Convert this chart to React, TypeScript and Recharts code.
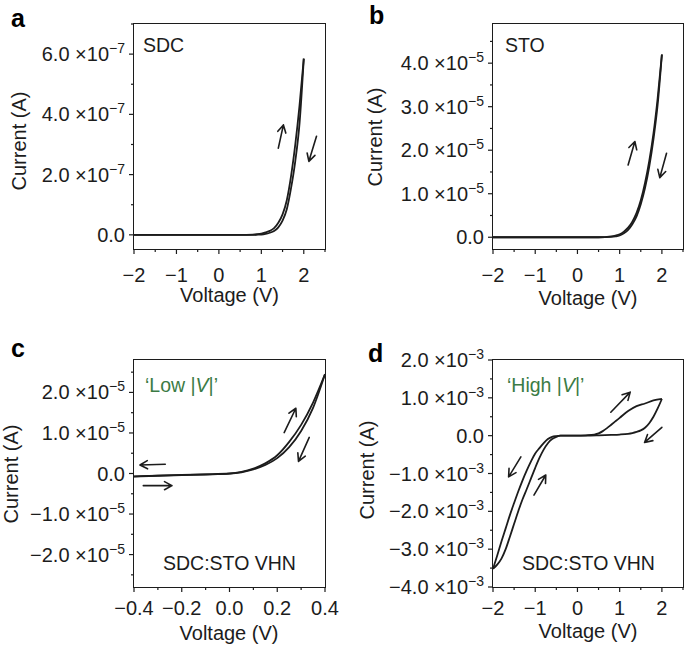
import React from "react";
import {
  LineChart,
  Line,
  XAxis,
  YAxis,
  ReferenceLine,
} from "recharts";

const FONT = "'Liberation Sans', Arial, Helvetica, sans-serif";
const INK = "#1c1c1c";
const GREEN = "#3b7b45";
const Y_AXIS_W = 120;
const X_AXIS_H = 55;

// ---- panel a: SDC (current in A) ----
const sdcV = [-2, -1.5, -1, -0.5, 0, 0.5, 0.8, 0.9, 1.0, 1.1, 1.2, 1.3, 1.4, 1.5, 1.6, 1.7, 1.8, 1.9, 2.0];
const sdcUpI = [0, 0, 0, 0, 0, 0, 0.01e-7, 0.02e-7, 0.04e-7, 0.08e-7, 0.13e-7, 0.22e-7, 0.4e-7, 0.68e-7, 1.15e-7, 1.95e-7, 3.0e-7, 4.3e-7, 5.85e-7];
const sdcDownI = [0, 0, 0, 0, 0, 0, 0, 0.005e-7, 0.01e-7, 0.03e-7, 0.07e-7, 0.13e-7, 0.25e-7, 0.47e-7, 0.85e-7, 1.55e-7, 2.45e-7, 3.7e-7, 5.85e-7];

// ---- panel b: STO ----
const stoV = sdcV;
const stoUpI = [0, 0, 0, 0, 0, 0, 0.02e-5, 0.04e-5, 0.07e-5, 0.13e-5, 0.22e-5, 0.36e-5, 0.56e-5, 0.85e-5, 1.25e-5, 1.75e-5, 2.38e-5, 3.2e-5, 4.2e-5];
const stoDownI = [0, 0, 0, 0, 0, 0, 0.01e-5, 0.02e-5, 0.04e-5, 0.09e-5, 0.17e-5, 0.3e-5, 0.48e-5, 0.76e-5, 1.13e-5, 1.62e-5, 2.25e-5, 3.05e-5, 4.2e-5];

// ---- panel c: SDC:STO VHN, low |V| ----
const lowV = [-0.4, -0.3, -0.2, -0.1, 0, 0.05, 0.1, 0.15, 0.2, 0.25, 0.3, 0.35, 0.4];
const lowUpI = [-0.07e-5, -0.05e-5, -0.035e-5, -0.02e-5, 0, 0.04e-5, 0.12e-5, 0.25e-5, 0.45e-5, 0.78e-5, 1.2e-5, 1.75e-5, 2.45e-5];
const lowDownI = [-0.075e-5, -0.055e-5, -0.04e-5, -0.025e-5, -0.005e-5, 0.03e-5, 0.1e-5, 0.21e-5, 0.38e-5, 0.65e-5, 1.05e-5, 1.62e-5, 2.45e-5];

// ---- panel d: SDC:STO VHN, high |V| ----
const highUpV = [-2, -1.9, -1.8, -1.7, -1.6, -1.5, -1.4, -1.3, -1.2, -1.1, -1.0, -0.9, -0.8, -0.7, -0.6, -0.5, -0.4, -0.2, 0, 0.2, 0.4, 0.5, 0.6, 0.7, 0.8, 0.9, 1.0, 1.2, 1.4, 1.6, 1.8, 2.0];
const highUpI = [-3.52e-3, -3.41e-3, -3.25e-3, -3.0e-3, -2.67e-3, -2.33e-3, -1.99e-3, -1.68e-3, -1.41e-3, -1.13e-3, -0.85e-3, -0.59e-3, -0.37e-3, -0.2e-3, -0.09e-3, -0.03e-3, 0, 0, 0, 0.01e-3, 0.03e-3, 0.06e-3, 0.12e-3, 0.2e-3, 0.29e-3, 0.38e-3, 0.47e-3, 0.65e-3, 0.78e-3, 0.85e-3, 0.93e-3, 0.97e-3];
const highDownV = [-2, -1.9, -1.8, -1.7, -1.6, -1.5, -1.4, -1.3, -1.2, -1.1, -1.0, -0.9, -0.8, -0.7, -0.6, -0.5, -0.4, -0.2, 0, 0.5, 0.8, 1.0, 1.2, 1.3, 1.4, 1.5, 1.6, 1.7, 1.8, 1.9, 2.0];
const highDownI = [-3.52e-3, -3.17e-3, -2.8e-3, -2.45e-3, -2.1e-3, -1.78e-3, -1.47e-3, -1.18e-3, -0.92e-3, -0.68e-3, -0.47e-3, -0.33e-3, -0.2e-3, -0.09e-3, -0.03e-3, -0.01e-3, 0, 0, 0, 0.01e-3, 0.02e-3, 0.03e-3, 0.05e-3, 0.07e-3, 0.1e-3, 0.14e-3, 0.21e-3, 0.33e-3, 0.5e-3, 0.72e-3, 0.97e-3];

// ---- ticks ----
const voltTicksWide = [-2, -1.5, -1, -0.5, 0, 0.5, 1, 1.5, 2, 2.5];
const voltMajorWide = [-2, -1, 0, 1, 2];
const voltTicksLow = [-0.4, -0.3, -0.2, -0.1, 0, 0.1, 0.2, 0.3, 0.4];
const voltMajorLow = [-0.4, -0.2, 0, 0.2, 0.4];
const sdcTicks = [0, 1e-7, 2e-7, 3e-7, 4e-7, 5e-7, 6e-7, 7e-7];
const sdcMajor = [0, 2e-7, 4e-7, 6e-7];
const stoTicks = [0, 0.5e-5, 1e-5, 1.5e-5, 2e-5, 2.5e-5, 3e-5, 3.5e-5, 4e-5, 4.5e-5];
const stoMajor = [0, 1e-5, 2e-5, 3e-5, 4e-5];
const lowTicks = [-2.5e-5, -2e-5, -1.5e-5, -1e-5, -0.5e-5, 0, 0.5e-5, 1e-5, 1.5e-5, 2e-5, 2.5e-5];
const lowMajor = [-2e-5, -1e-5, 0, 1e-5, 2e-5];
const highTicks = [-4e-3, -3.5e-3, -3e-3, -2.5e-3, -2e-3, -1.5e-3, -1e-3, -0.5e-3, 0, 0.5e-3, 1e-3, 1.5e-3, 2e-3];
const highMajor = [-4e-3, -3e-3, -2e-3, -1e-3, 0, 1e-3, 2e-3];

// sweep-direction arrows [v1, i1, v2, i2]
const sdcArrows = [[1.4, 2.88e-7, 1.52, 3.65e-7], [2.3, 3.27e-7, 2.12, 2.44e-7]];
const stoArrows = [[1.2, 1.66e-5, 1.36, 2.2e-5], [2.11, 1.93e-5, 1.95, 1.37e-5]];
const lowArrows = [
  [0.229, 1.01e-5, 0.278, 1.61e-5],
  [0.334, 0.89e-5, 0.289, 0.3e-5],
  [-0.269, 0.23e-5, -0.375, 0.21e-5],
  [-0.361, -0.3e-5, -0.241, -0.3e-5],
];
const highArrows = [
  [0.79, 0.62e-3, 1.25, 1.15e-3],
  [2.0, 0.22e-3, 1.59, -0.18e-3],
  [-1.34, -0.56e-3, -1.63, -1.09e-3],
  [-1.03, -1.57e-3, -0.75, -1.04e-3],
];

const toRows = (v: number[], i: number[]) => v.map((x, k) => ({ v: x, i: i[k] }));
const isIn = (list: number[], val: number, tol: number) => list.some((m) => Math.abs(m - val) < tol);
const minus = (s: string) => s.replace("-", "\u2212");

const makeXTick = (majors: number[], digits: number, labelOffset: number) => (props: any) => {
  const { x, y, payload } = props;
  const major = isIn(majors, payload.value, 1e-6);
  return (
    <g>
      <line x1={x} x2={x} y1={y} y2={y + (major ? 5 : 3)} stroke={INK} strokeWidth={1.2} />
      {major && (
        <text x={x} y={y + labelOffset} textAnchor="middle" fontSize={20} fill={INK} fontFamily={FONT}>
          {minus(payload.value.toFixed(digits))}
        </text>
      )}
    </g>
  );
};

const makeYTick = (majors: number[], exp: number) => (props: any) => {
  const { x, y, payload } = props;
  const scale = Math.pow(10, exp);
  const major = isIn(majors, payload.value, scale * 1e-3);
  const mant = payload.value / scale;
  return (
    <g>
      <line x1={x} x2={x - (major ? 5 : 3)} y1={y} y2={y} stroke={INK} strokeWidth={1.2} />
      {major && (
        <text x={x - 9} y={y + 7} textAnchor="end" fontSize={20} fill={INK} fontFamily={FONT}>
          {Math.abs(mant) < 1e-9 ? (
            "0.0"
          ) : (
            <>
              {minus(mant.toFixed(1))} {"\u00d710"}
              <tspan dy={-8} fontSize={14}>{`\u2212${-exp}`}</tspan>
            </>
          )}
        </text>
      )}
    </g>
  );
};

const ArrowShape = (p: any) => {
  const { x1, y1, x2, y2 } = p;
  const a = Math.atan2(y2 - y1, x2 - x1);
  const L = 8.5;
  const w = 0.5;
  const hx1 = x2 - L * Math.cos(a - w);
  const hy1 = y2 - L * Math.sin(a - w);
  const hx2 = x2 - L * Math.cos(a + w);
  const hy2 = y2 - L * Math.sin(a + w);
  return (
    <path
      d={`M${x1},${y1}L${x2},${y2}M${hx1},${hy1}L${x2},${y2}L${hx2},${hy2}`}
      stroke={INK}
      strokeWidth={1.6}
      fill="none"
      strokeLinecap="round"
      strokeLinejoin="round"
    />
  );
};

type Note = { x: number; y: number; content: React.ReactNode; color?: string };

type PanelProps = {
  left: number;
  top: number;
  width: number;
  height: number;
  margin: { top: number; right: number; bottom: number; left: number };
  xDomain: [number, number];
  xTicks: number[];
  xMajor: number[];
  xDigits: number;
  xLabelOffset: number;
  yDomain: [number, number];
  yTicks: number[];
  yMajor: number[];
  exp: number;
  up: { v: number; i: number }[];
  down: { v: number; i: number }[];
  arrows: number[][];
  letter: [string, number, number];
  yTitle: [number, number];
  xTitle: [number, number];
  notes: Note[];
};

function Panel(p: PanelProps) {
  // plot frame follows from the chart layout (margins + axis sizes)
  const fx = p.margin.left + Y_AXIS_W;
  const fy = p.margin.top;
  const fw = p.width - p.margin.left - p.margin.right - Y_AXIS_W;
  const fh = p.height - p.margin.top - p.margin.bottom - X_AXIS_H;
  return (
    <div style={{ position: "absolute", left: p.left, top: p.top, width: p.width, height: p.height }}>
      <LineChart width={p.width} height={p.height} margin={p.margin}>
        <XAxis
          type="number"
          dataKey="v"
          domain={p.xDomain}
          allowDataOverflow
          ticks={p.xTicks}
          interval={0}
          tickSize={0}
          tickMargin={0}
          axisLine={false}
          tickLine={false}
          height={X_AXIS_H}
          tick={makeXTick(p.xMajor, p.xDigits, p.xLabelOffset)}
        />
        <YAxis
          type="number"
          dataKey="i"
          domain={p.yDomain}
          allowDataOverflow
          ticks={p.yTicks}
          interval={0}
          tickSize={0}
          tickMargin={0}
          axisLine={false}
          tickLine={false}
          width={Y_AXIS_W}
          tick={makeYTick(p.yMajor, p.exp)}
        />
        <Line data={p.up} dataKey="i" type="monotone" stroke={INK} strokeWidth={1.8} dot={false} activeDot={false} isAnimationActive={false} />
        <Line data={p.down} dataKey="i" type="monotone" stroke={INK} strokeWidth={1.8} dot={false} activeDot={false} isAnimationActive={false} />
        {p.arrows.map((a, k) => (
          <ReferenceLine
            key={`a${k}`}
            segment={[{ x: a[0], y: a[1] }, { x: a[2], y: a[3] }]}
            ifOverflow="visible"
            shape={ArrowShape}
          />
        ))}
        <text x={p.letter[1]} y={p.letter[2]} fontSize={25} fontWeight="bold" fill="#000" fontFamily={FONT}>
          {p.letter[0]}
        </text>
        <text
          x={p.yTitle[0]}
          y={p.yTitle[1]}
          transform={`rotate(-90 ${p.yTitle[0]} ${p.yTitle[1]})`}
          textAnchor="middle"
          fontSize={20}
          fill={INK}
          fontFamily={FONT}
        >
          Current (A)
        </text>
        <text x={p.xTitle[0]} y={p.xTitle[1]} textAnchor="middle" fontSize={20} fill={INK} fontFamily={FONT}>
          Voltage (V)
        </text>
        {p.notes.map((n, k) => (
          <text key={k} x={n.x} y={n.y} fontSize={19.5} fill={n.color ?? INK} fontFamily={FONT}>
            {n.content}
          </text>
        ))}
      </LineChart>
      {/* plot frame as an overlay box */}
      <div
        style={{
          position: "absolute",
          left: fx - 1,
          top: fy - 1,
          width: fw + 2,
          height: fh + 2,
          boxSizing: "border-box",
          border: `1.5px solid ${INK}`,
          pointerEvents: "none",
          zIndex: 2,
        }}
      />
    </div>
  );
}

const vText = (word: string) => (
  <>
    {`\u2018${word} |`}
    <tspan fontStyle="italic">V</tspan>
    {"|\u2019"}
  </>
);

export default function App() {
  return (
    <div
      style={{
        position: "absolute",
        left: 0,
        top: 0,
        width: 685,
        height: 646,
        background: "#fff",
        fontFamily: FONT,
        overflow: "hidden",
      }}
    >
      <Panel
        left={0}
        top={0}
        width={342}
        height={320}
        margin={{ top: 24, right: 17, bottom: 16, left: 14 }}
        xDomain={[-2, 2.5]}
        xTicks={voltTicksWide}
        xMajor={voltMajorWide}
        xDigits={0}
        xLabelOffset={33}
        yDomain={[-0.47e-7, 7e-7]}
        yTicks={sdcTicks}
        yMajor={sdcMajor}
        exp={-7}
        up={toRows(sdcV, sdcUpI)}
        down={toRows(sdcV, sdcDownI)}
        arrows={sdcArrows}
        letter={["a", 11, 27]}
        yTitle={[26, 141]}
        xTitle={[229.5, 302]}
        notes={[{ x: 143, y: 52, content: "SDC" }]}
      />
      <Panel
        left={342}
        top={0}
        width={343}
        height={320}
        margin={{ top: 24, right: 2, bottom: 16, left: 31 }}
        xDomain={[-2, 2.5]}
        xTicks={voltTicksWide}
        xMajor={voltMajorWide}
        xDigits={0}
        xLabelOffset={33}
        yDomain={[-0.27e-5, 4.9e-5]}
        yTicks={stoTicks}
        yMajor={stoMajor}
        exp={-5}
        up={toRows(stoV, stoUpI)}
        down={toRows(stoV, stoDownI)}
        arrows={stoArrows}
        letter={["b", 27, 24]}
        yTitle={[40, 137]}
        xTitle={[246, 305]}
        notes={[{ x: 163, y: 52, content: "STO" }]}
      />
      <Panel
        left={0}
        top={320}
        width={342}
        height={326}
        margin={{ top: 40, right: 17, bottom: 4, left: 14 }}
        xDomain={[-0.4, 0.4]}
        xTicks={voltTicksLow}
        xMajor={voltMajorLow}
        xDigits={1}
        xLabelOffset={28}
        yDomain={[-2.8e-5, 2.8e-5]}
        yTicks={lowTicks}
        yMajor={lowMajor}
        exp={-5}
        up={toRows(lowV, lowUpI)}
        down={toRows(lowV, lowDownI)}
        arrows={lowArrows}
        letter={["c", 11, 37]}
        yTitle={[18, 154]}
        xTitle={[229, 320]}
        notes={[
          { x: 145, y: 72, content: vText("Low"), color: GREEN },
          { x: 163, y: 250, content: "SDC:STO VHN" },
        ]}
      />
      <Panel
        left={342}
        top={320}
        width={343}
        height={326}
        margin={{ top: 40, right: 2, bottom: 4, left: 31 }}
        xDomain={[-2, 2.5]}
        xTicks={voltTicksWide}
        xMajor={voltMajorWide}
        xDigits={0}
        xLabelOffset={28}
        yDomain={[-4e-3, 2e-3]}
        yTicks={highTicks}
        yMajor={highMajor}
        exp={-3}
        up={toRows(highUpV, highUpI)}
        down={toRows(highDownV, highDownI)}
        arrows={highArrows}
        letter={["d", 26, 42]}
        yTitle={[32, 150]}
        xTitle={[246, 318]}
        notes={[
          { x: 165, y: 72, content: vText("High"), color: GREEN },
          { x: 180, y: 250, content: "SDC:STO VHN" },
        ]}
      />
    </div>
  );
}
